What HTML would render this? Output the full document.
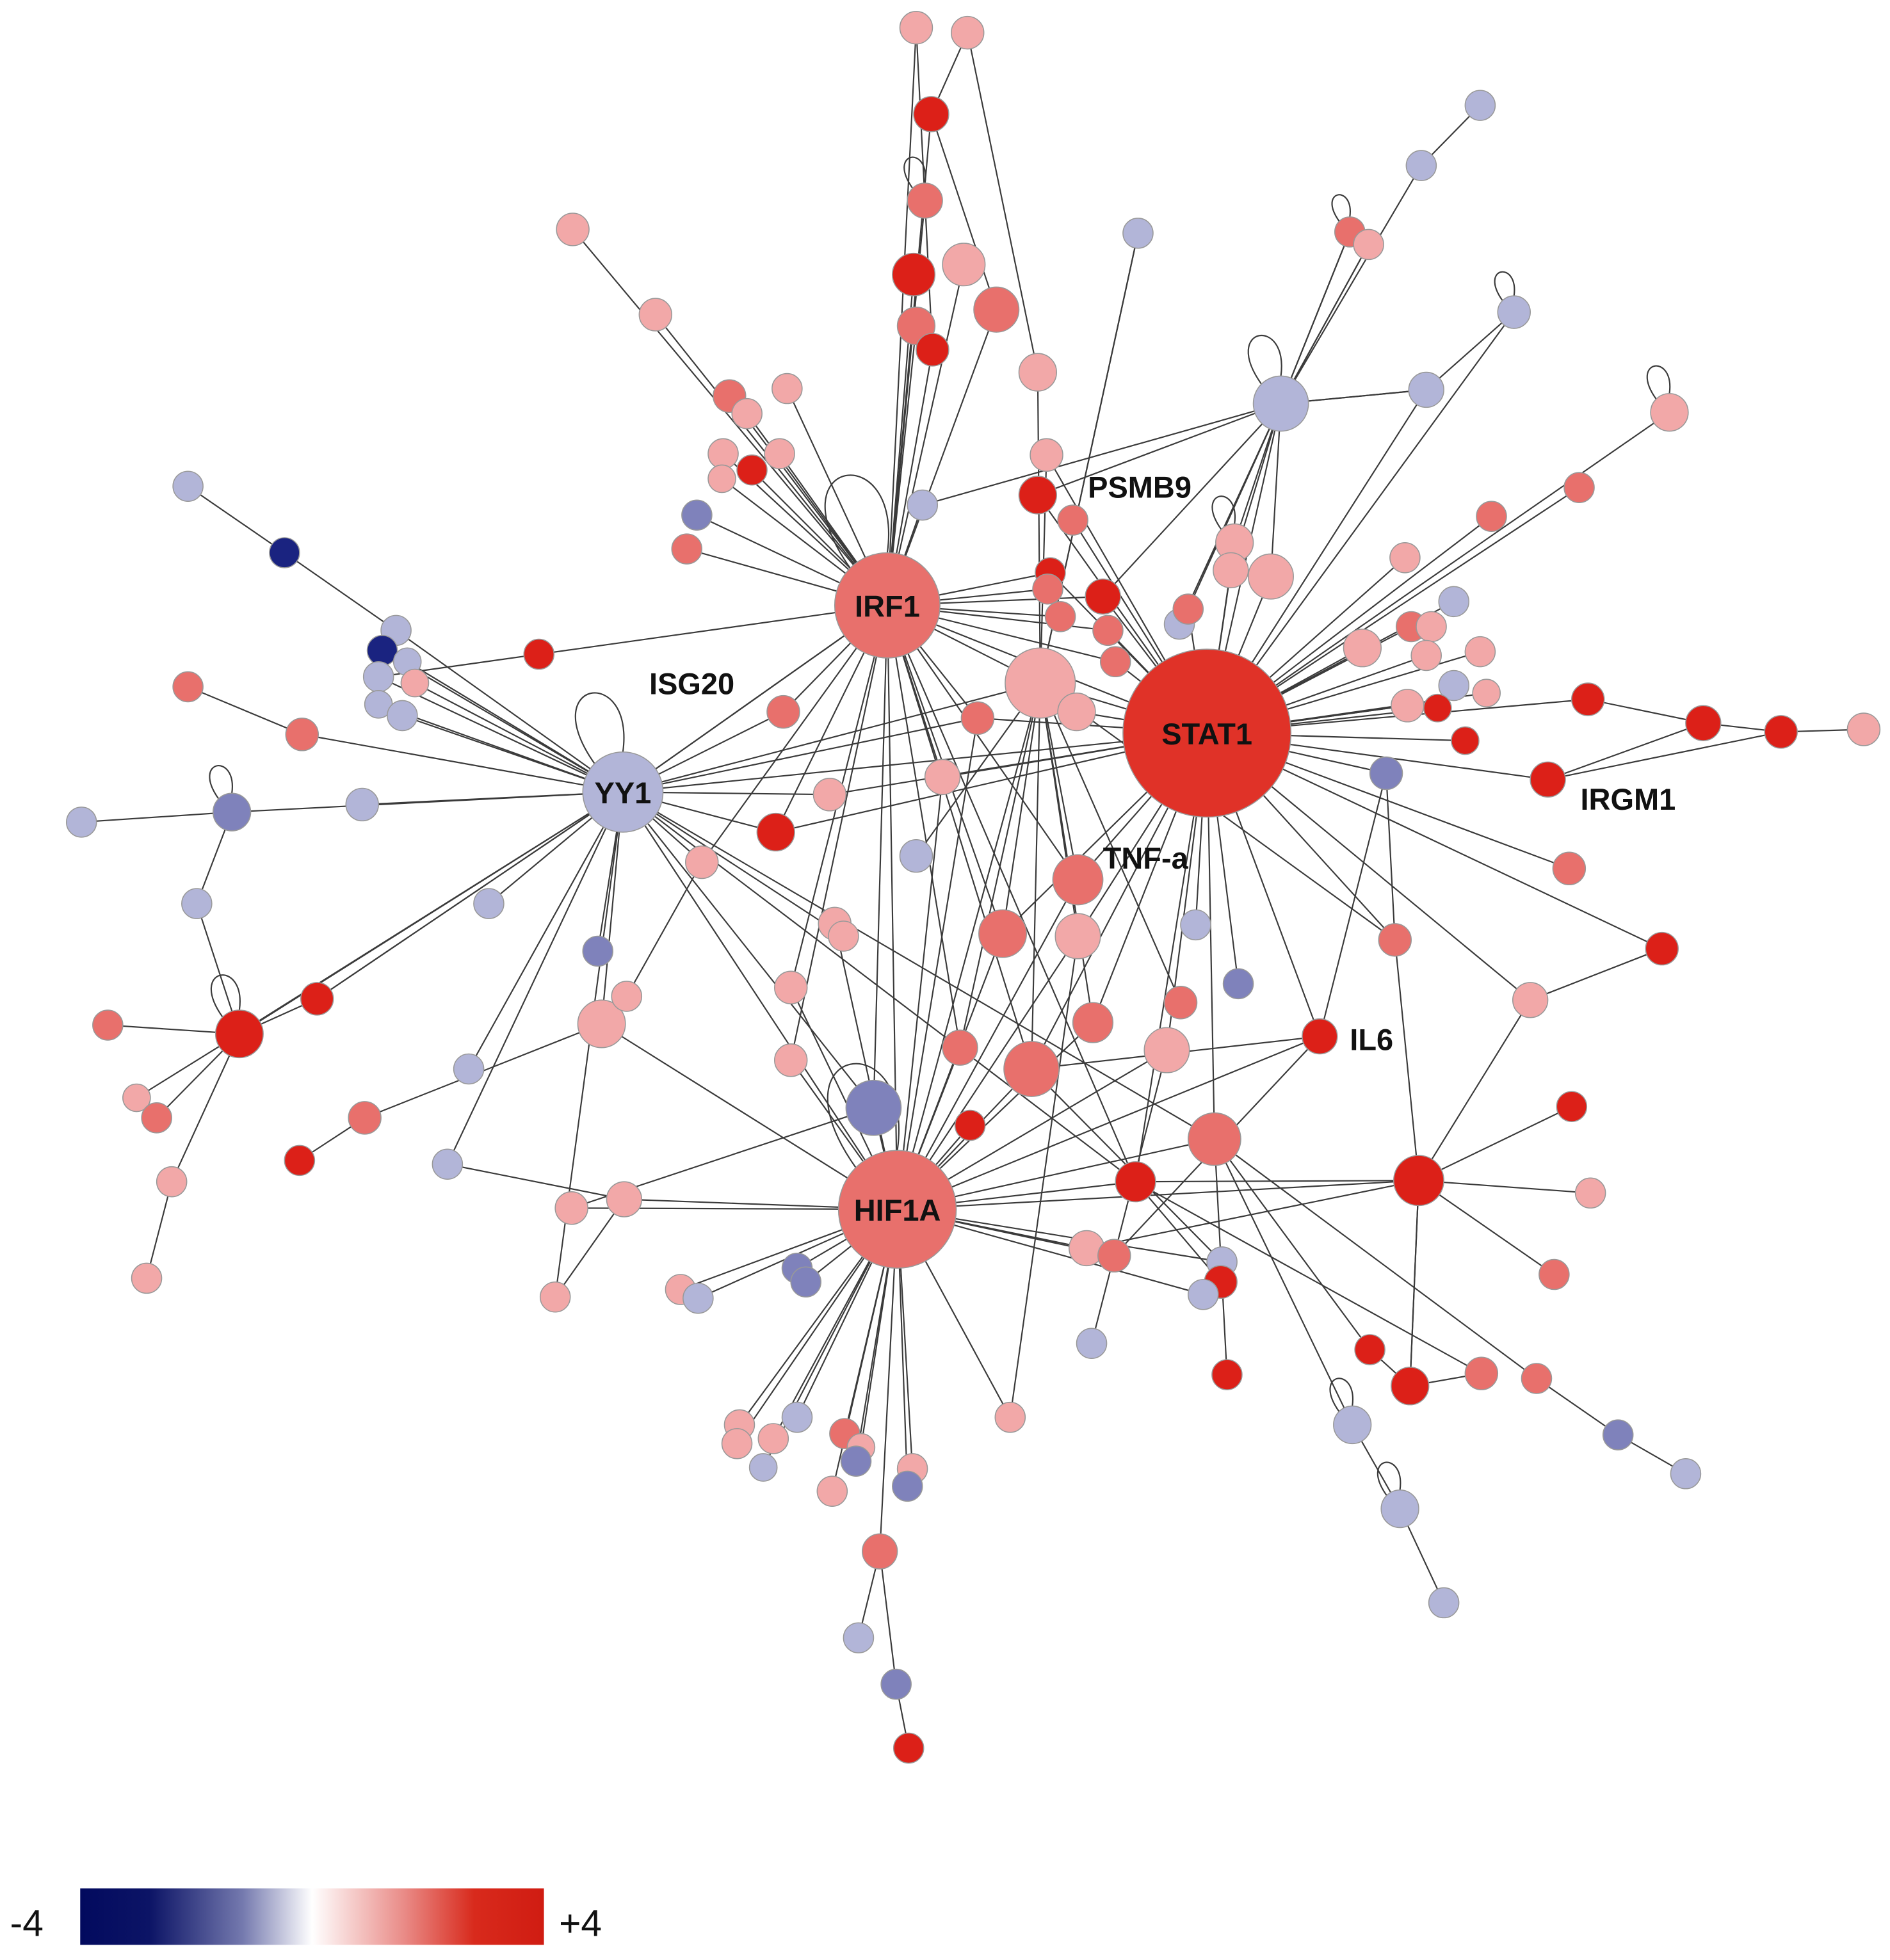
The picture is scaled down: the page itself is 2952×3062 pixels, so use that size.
<!DOCTYPE html>
<html><head><meta charset="utf-8"><style>
html,body{margin:0;padding:0;background:#fff;}
svg{display:block}
text{font-family:"Liberation Sans",Arial,sans-serif;font-weight:bold;fill:#111;}
</style></head><body>
<svg id="s" width="2952" height="3062" viewBox="0 0 1508 1564" xmlns="http://www.w3.org/2000/svg">
<defs><linearGradient id="g" x1="0" x2="1" y1="0" y2="0">
<stop offset="0" stop-color="#020a5e"/><stop offset="0.15" stop-color="#0c1466"/><stop offset="0.35" stop-color="#7479ae"/><stop offset="0.5" stop-color="#ffffff"/><stop offset="0.7" stop-color="#e98a86"/><stop offset="0.85" stop-color="#d82a1c"/><stop offset="1" stop-color="#d01c12"/></linearGradient></defs>
<g id="E" stroke="#3a3a3a" stroke-width="1.1" fill="none"></g>
<g id="N" stroke="#999" stroke-width="0.8"></g>
<g font-size="24" text-anchor="middle">
<text x="963" y="594">STAT1</text>
<text x="708" y="492">IRF1</text>
<text x="716" y="974">HIF1A</text>
<text x="497" y="641">YY1</text>
</g>
<g font-size="24">
<text x="868" y="397">PSMB9</text>
<text x="518" y="554">ISG20</text>
<text x="880" y="693">TNF-a</text>
<text x="1261" y="646">IRGM1</text>
<text x="1077" y="838">IL6</text>
</g>
<text x="8" y="1545" font-size="30" font-weight="normal" style="font-weight:normal">-4</text>
<rect x="64" y="1507" width="370" height="45" fill="url(#g)"/>
<text x="446" y="1545" font-size="30" style="font-weight:normal">+4</text>
</svg>
<script>
var C={R:"#dc2018",M:"#e8706c",P:"#f2a8a8",L:"#b2b5d8",B:"#7f82bb",N:"#1a2380",S:"#e03228"};
var nodes=[
[963,585,67,"S"],[708,483,42,"M"],[716,965,47,"M"],[497,632,32,"L"],[1022,322,22,"L"],[830,545,28,"P"],
[731,22,13,"P"],[772,26,13,"P"],[743,91,14,"R"],[738,160,14,"M"],[729,219,17,"R"],[769,211,17,"P"],[795,247,18,"M"],[731,260,15,"M"],[744,279,13,"R"],[828,297,15,"P"],
[457,183,13,"P"],[523,251,13,"P"],[582,316,13,"M"],[596,330,12,"P"],[628,310,12,"P"],[577,362,12,"P"],[576,382,11,"P"],[600,375,12,"R"],[622,362,12,"P"],[556,411,12,"B"],[548,438,12,"M"],
[908,186,12,"L"],[1181,84,12,"L"],[1134,132,12,"L"],[1077,185,12,"M"],[1092,195,12,"P"],[1208,249,13,"L"],[1138,311,14,"L"],[1332,329,15,"P"],[1260,389,12,"M"],[1190,412,12,"M"],
[835,363,13,"P"],[828,395,15,"R"],[856,415,12,"M"],[838,457,12,"R"],[880,476,14,"R"],[836,470,12,"M"],[846,492,12,"M"],[884,503,12,"M"],[890,528,12,"M"],[941,498,12,"L"],[948,486,12,"M"],[985,433,15,"P"],[982,455,14,"P"],[1014,460,18,"P"],[736,403,12,"L"],
[1121,445,12,"P"],[1160,480,12,"L"],[1126,500,12,"M"],[1142,500,12,"P"],[1087,517,15,"P"],[1138,523,12,"P"],[1181,520,12,"P"],[1160,547,12,"L"],[1186,553,11,"P"],[1123,563,13,"P"],[1147,565,11,"R"],[1169,591,11,"R"],[1267,558,13,"R"],[1359,577,14,"R"],[1421,584,13,"R"],[1487,582,13,"P"],[1235,622,14,"R"],[1106,617,13,"B"],
[150,388,12,"L"],[227,441,12,"N"],[316,503,12,"L"],[305,519,12,"N"],[325,528,11,"L"],[331,545,11,"P"],[302,540,12,"L"],[302,562,11,"L"],[321,571,12,"L"],[430,522,12,"R"],[150,548,12,"M"],[241,586,13,"M"],[625,568,13,"M"],[780,573,13,"M"],[859,568,15,"P"],
[65,656,12,"L"],[185,648,15,"B"],[289,642,13,"L"],[157,721,12,"L"],[390,721,12,"L"],[477,759,12,"B"],[560,688,13,"P"],[619,664,15,"R"],[662,634,13,"P"],[752,620,14,"P"],[731,683,13,"L"],[860,702,20,"M"],[800,745,19,"M"],[860,747,18,"P"],[954,738,12,"L"],[1252,693,13,"M"],[1326,757,13,"R"],[1113,750,13,"M"],[988,785,12,"B"],
[86,818,12,"M"],[191,825,19,"R"],[253,797,13,"R"],[109,876,11,"P"],[125,892,12,"M"],[137,943,12,"P"],[117,1020,12,"P"],[239,926,12,"R"],[291,892,13,"M"],[374,853,12,"L"],[357,929,12,"L"],[480,817,19,"P"],[500,795,12,"P"],[631,788,13,"P"],[631,846,13,"P"],[666,737,13,"P"],[673,747,12,"P"],[766,836,14,"M"],[823,853,22,"M"],[872,816,16,"M"],[931,838,18,"P"],[942,800,13,"M"],[1053,827,14,"R"],[1221,798,14,"P"],[697,884,22,"B"],[774,898,12,"R"],[969,909,21,"M"],[906,943,16,"R"],[1132,942,20,"R"],[1254,883,12,"R"],[1269,952,12,"P"],[1240,1017,12,"M"],
[456,964,13,"P"],[498,957,14,"P"],[443,1035,12,"P"],[543,1029,12,"P"],[557,1036,12,"L"],[636,1012,12,"B"],[643,1023,12,"B"],[867,996,14,"P"],[889,1002,13,"M"],[975,1007,12,"L"],[974,1023,13,"R"],[960,1033,12,"L"],[871,1072,12,"L"],[806,1131,12,"P"],[979,1097,12,"R"],[1093,1077,12,"R"],[1125,1106,15,"R"],[1182,1096,13,"M"],[1226,1100,12,"M"],[1079,1137,15,"L"],[1291,1145,12,"B"],[1345,1176,12,"L"],[1117,1204,15,"L"],[1152,1279,12,"L"],
[590,1137,12,"P"],[588,1152,12,"P"],[617,1148,12,"P"],[636,1131,12,"L"],[609,1171,11,"L"],[674,1144,12,"M"],[687,1155,11,"P"],[683,1166,12,"B"],[664,1190,12,"P"],[728,1172,12,"P"],[724,1186,12,"B"],[702,1238,14,"M"],[685,1307,12,"L"],[715,1344,12,"B"],[725,1395,12,"R"]];
nodes[1291]=0;
var H={S:[963,585],I:[708,483],H:[716,965],Y:[497,632],L:[1022,322],P:[830,545]};
var hubE={
S:"1121,445;1160,480;1126,500;1087,517;1138,523;1181,520;1186,553;1123,563;1147,565;1169,591;1267,558;1106,617;1235,622;1252,693;1326,757;1053,827;1221,798;985,433;1014,460;982,455;1022,322;1332,329;1260,389;1190,412;880,476;948,486;828,395;838,457;860,702;800,745;860,747;954,738;872,816;931,838;969,909;906,943;823,853;780,573;752,620;619,664;497,632;708,483;859,568;830,545;662,634;1208,249;1138,311;835,363;856,415;890,528;884,503;1123,563;988,785;1113,750",
I:"743,91;731,22;738,160;729,219;523,251;457,183;582,316;596,330;628,310;577,362;576,382;600,375;622,362;556,411;548,438;736,403;430,522;625,568;780,573;830,545;880,476;838,457;846,492;884,503;890,528;836,470;860,702;800,745;766,836;823,853;697,884;716,965;631,788;560,688;619,664;752,620;497,632;631,846;906,943;795,247;769,211;744,279;731,260",
H:"697,884;636,1012;643,1023;557,1036;543,1029;590,1137;588,1152;617,1148;636,1131;609,1171;674,1144;687,1155;683,1166;664,1190;728,1172;724,1186;702,1238;806,1131;867,996;889,1002;975,1007;960,1033;498,957;456,964;480,817;631,846;631,788;766,836;823,853;800,745;860,702;860,747;872,816;931,838;1053,827;1132,942;969,909;906,943;497,632;830,545;780,573;752,620;774,898;666,737",
Y:"316,503;305,519;325,528;331,545;302,540;302,562;321,571;289,642;185,648;191,825;253,797;390,721;477,759;480,817;374,853;357,929;560,688;619,664;662,634;708,483;830,545;697,884;780,573;625,568;241,586;969,909;906,943;673,747;443,1035",
L:"1077,185;1092,195;1138,311;1134,132;985,433;1014,460;948,486;880,476;982,455;941,498;828,395",
P:"908,186;828,297;835,363;860,702;800,745;860,747;823,853;766,836;872,816;731,683;1113,750;942,800"};
var ch=[[227,441,150,388],[227,441,316,503],[65,656,185,648],[185,648,157,721],[157,721,191,825],[191,825,86,818],[191,825,109,876],[191,825,125,892],[191,825,137,943],[137,943,117,1020],[191,825,253,797],[239,926,291,892],[291,892,480,817],[150,548,241,586],[1359,577,1421,584],[1421,584,1487,582],[1235,622,1359,577],[1267,558,1359,577],[1235,622,1421,584],[1132,942,1221,798],[1221,798,1326,757],[1132,942,1254,883],[1132,942,1269,952],[1132,942,1240,1017],[1132,942,1125,1106],[1132,942,1113,750],[1113,750,1106,617],[1125,1106,1093,1077],[1125,1106,1182,1096],[1226,1100,1291,1145],[1291,1145,1345,1176],[1079,1137,1117,1204],[1117,1204,1152,1279],[702,1238,685,1307],[702,1238,715,1344],[715,1344,725,1395],[498,957,357,929],[743,91,772,26],[908,186,830,545],[823,853,1053,827],[906,943,1132,942],[1079,1137,969,909],[1226,1100,969,909],[1182,1096,906,943],[979,1097,969,909],[871,1072,931,838],[806,1131,860,747],[1022,322,1138,311],[1138,311,1208,249],[1181,84,1134,132],[743,91,795,247],[772,26,828,297],[731,22,744,279],[1022,322,1077,185],[1022,322,1092,195],[430,522,302,540],[253,797,497,632],[736,403,1022,322],[974,1023,906,943],[975,1007,823,853],[1125,1106,1132,942],[1093,1077,969,909],[1053,827,1106,617],[443,1035,498,957],[456,964,697,884],[500,795,560,688],[190,825,497,632],[867,996,1132,942],[889,1002,1053,827]];
var ns="http://www.w3.org/2000/svg",E=document.getElementById("E"),N=document.getElementById("N");
function ln(a,b,c,d){var l=document.createElementNS(ns,"line");l.setAttribute("x1",a);l.setAttribute("y1",b);l.setAttribute("x2",c);l.setAttribute("y2",d);E.appendChild(l);}
for(var k in hubE){hubE[k].split(";").forEach(function(p){var q=p.split(",");ln(H[k][0],H[k][1],+q[0],+q[1]);});}
ch.forEach(function(c){ln(c[0],c[1],c[2],c[3]);});
var loops=[[185,648,15],[191,825,19],[497,632,32],[1022,322,22],[1079,1137,15],[1117,1204,15],[1208,249,13],[1332,329,15],[1077,185,12],[716,965,47],[708,483,42],[985,433,15],[738,160,14]];
loops.forEach(function(o){var p=document.createElementNS(ns,"path");var x=o[0],y=o[1],r=o[2];p.setAttribute("d","M"+(x-r*0.7)+","+(y-r*0.7)+" C"+(x-r*2.2)+","+(y-r*2.8)+" "+(x+r*0.3)+","+(y-r*3.2)+" "+(x)+","+(y-r));E.appendChild(p);});
nodes.forEach(function(n){if(!n||!n.length)return;var c=document.createElementNS(ns,"circle");c.setAttribute("cx",n[0]);c.setAttribute("cy",n[1]);c.setAttribute("r",n[2]);c.setAttribute("fill",C[n[3]]);N.appendChild(c);});
</script>
</body></html>
